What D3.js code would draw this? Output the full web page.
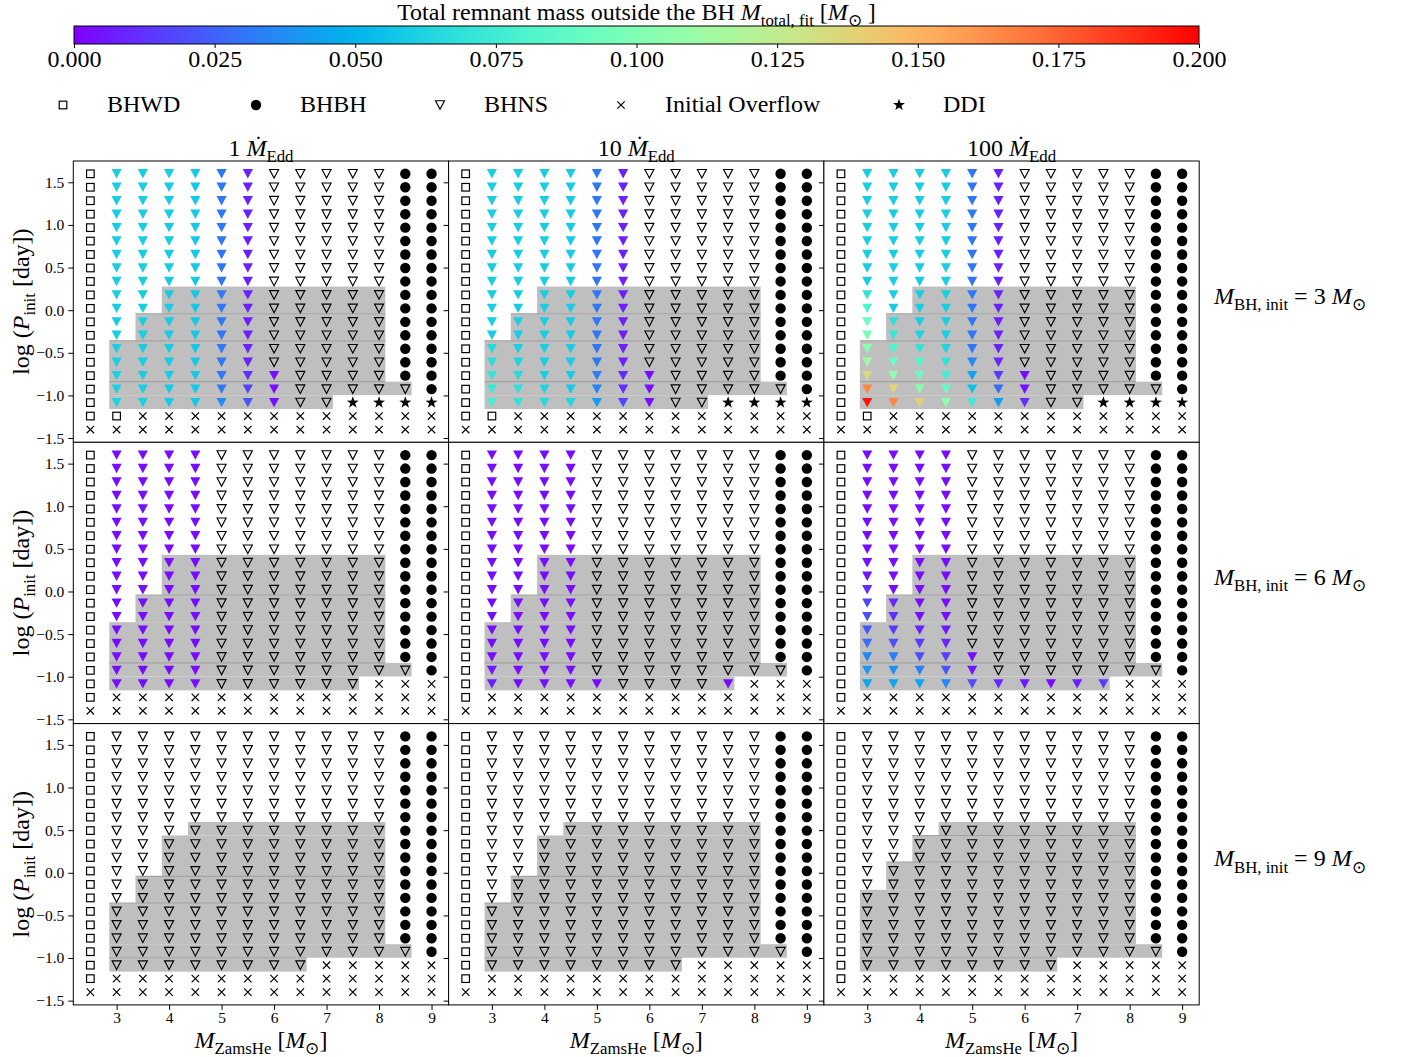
<!DOCTYPE html>
<html><head><meta charset="utf-8">
<script src="https://cdn.jsdelivr.net/npm/d3@7"></script>
<style>
body{margin:0;background:#fff}
text{font-family:"Liberation Serif","Times New Roman",serif;white-space:pre}
</style>
</head><body>
<svg id="chart" width="1411" height="1057"></svg>
<script>
// ---------------- DATA ----------------
const massGrid = [2.5,3,3.5,4,4.5,5,5.5,6,6.5,7,7.5,8,8.5,9];
// log P grid, top row to bottom row
const logPGrid = [1.6,1.442,1.284,1.126,0.968,0.811,0.653,0.495,0.337,0.179,0.021,-0.137,-0.295,-0.453,-0.611,-0.768,-0.926,-1.084,-1.242,-1.4];
const accretionRates = ["1","10","100"];
const bhMasses = [3,6,9];
const xTicks = [3,4,5,6,7,8,9];
const yTicks = [-1.5,-1.0,-0.5,0.0,0.5,1.0,1.5];
const cbarTicks = [0,0.025,0.05,0.075,0.1,0.125,0.15,0.175,0.2];
const legendCodes = ["S","C","T","X","D"];
const legendLabels = ["BHWD","BHBH","BHNS","Initial Overflow","DDI"];

// outcome codes: S=BHWD, C=BHBH, T=BHNS (no value), F=BHNS coloured, X=initial overflow, D=DDI
const outcomeMBH3 = [
"SFFFFFFTTTTTCC","SFFFFFFTTTTTCC","SFFFFFFTTTTTCC","SFFFFFFTTTTTCC","SFFFFFFTTTTTCC",
"SFFFFFFTTTTTCC","SFFFFFFTTTTTCC","SFFFFFFTTTTTCC","SFFFFFFTTTTTCC","SFFFFFFTTTTTCC",
"SFFFFFFTTTTTCC","SFFFFFFTTTTTCC","SFFFFFFTTTTTCC","SFFFFFFTTTTTCC","SFFFFFFTTTTTCC",
"SFFFFFFFTTTTCC","SFFFFFFFTTTTTC","SFFFFFFFTTDDDD","SSXXXXXXXXXXXX","XXXXXXXXXXXXXX"];
const outcomeMBH6_1 = [
"SFFFFTTTTTTTCC","SFFFFTTTTTTTCC","SFFFFTTTTTTTCC","SFFFFTTTTTTTCC","SFFFFTTTTTTTCC",
"SFFFFTTTTTTTCC","SFFFFTTTTTTTCC","SFFFFTTTTTTTCC","SFFFFTTTTTTTCC","SFFFFTTTTTTTCC",
"SFFFFTTTTTTTCC","SFFFFTTTTTTTCC","SFFFFTTTTTTTCC","SFFFFTTTTTTTCC","SFFFFTTTTTTTCC",
"SFFFFTTTTTTTCC","SFFFFTTTTTTTTC","SFFFFTTTTTTXXX","SXXXXXXXXXXXXX","XXXXXXXXXXXXXX"];
const outcomeMBH6_10 = [
"SFFFFTTTTTTTCC","SFFFFTTTTTTTCC","SFFFFTTTTTTTCC","SFFFFTTTTTTTCC","SFFFFTTTTTTTCC",
"SFFFFTTTTTTTCC","SFFFFTTTTTTTCC","SFFFFTTTTTTTCC","SFFFFTTTTTTTCC","SFFFFTTTTTTTCC",
"SFFFFTTTTTTTCC","SFFFFTTTTTTTCC","SFFFFTTTTTTTCC","SFFFFTTTTTTTCC","SFFFFTTTTTTTCC",
"SFFFFTTTTTTTCC","SFFFFTTTTTTTTC","SFFFFFTTTTFXXX","SXXXXXXXXXXXXX","XXXXXXXXXXXXXX"];
const outcomeMBH6_100 = [
"SFFFFTTTTTTTCC","SFFFFTTTTTTTCC","SFFFFTTTTTTTCC","SFFFFTTTTTTTCC","SFFFFTTTTTTTCC",
"SFFFFTTTTTTTCC","SFFFFTTTTTTTCC","SFFFFTTTTTTTCC","SFFFFTTTTTTTCC","SFFFFTTTTTTTCC",
"SFFFFTTTTTTTCC","SFFFFTTTTTTTCC","SFFFFTTTTTTTCC","SFFFFTTTTTTTCC","SFFFFTTTTTTTCC",
"SFFFFFTTTTTTCC","SFFFFFTTTTTTTC","SFFFFFFFFFFXXX","SXXXXXXXXXXXXX","XXXXXXXXXXXXXX"];
const outcomeMBH9 = [
"STTTTTTTTTTTCC","STTTTTTTTTTTCC","STTTTTTTTTTTCC","STTTTTTTTTTTCC","STTTTTTTTTTTCC",
"STTTTTTTTTTTCC","STTTTTTTTTTTCC","STTTTTTTTTTTCC","STTTTTTTTTTTCC","STTTTTTTTTTTCC",
"STTTTTTTTTTTCC","STTTTTTTTTTTCC","STTTTTTTTTTTCC","STTTTTTTTTTTCC","STTTTTTTTTTTCC",
"STTTTTTTTTTTCC","STTTTTTTTTTTTC","STTTTTTTTXXXXX","SXXXXXXXXXXXXX","XXXXXXXXXXXXXX"];

// M_total,fit values of coloured BHNS cells, per column (top to bottom)
const fill_1Edd_3 = {
"3":  [0.060,0.060,0.060,0.060,0.060,0.060,0.060,0.060,0.060,0.060,0.060,0.060,0.060,0.060,0.060,0.061,0.061,0.062],
"3.5":[0.060,0.060,0.060,0.060,0.060,0.060,0.060,0.060,0.060,0.060,0.060,0.060,0.060,0.060,0.060,0.060,0.060,0.061],
"4":  [0.059,0.059,0.059,0.059,0.059,0.059,0.059,0.059,0.059,0.059,0.059,0.059,0.059,0.059,0.059,0.059,0.059,0.059],
"4.5":[0.058,0.058,0.058,0.058,0.058,0.058,0.058,0.058,0.058,0.058,0.058,0.058,0.058,0.058,0.058,0.058,0.058,0.058],
"5":  [0.031,0.031,0.031,0.031,0.031,0.031,0.031,0.031,0.031,0.031,0.031,0.031,0.031,0.031,0.031,0.031,0.031,0.036],
"5.5":[0.008,0.008,0.008,0.008,0.008,0.008,0.008,0.008,0.008,0.008,0.008,0.008,0.008,0.008,0.008,0.012,0.016,0.022],
"6":  [0.003,0.003,0.004]};
const fill_10Edd_3 = {
"3":  [0.060,0.060,0.060,0.060,0.060,0.060,0.060,0.060,0.060,0.060,0.060,0.060,0.060,0.065,0.067,0.070,0.072,0.078],
"3.5":[0.060,0.060,0.060,0.060,0.060,0.060,0.060,0.060,0.060,0.060,0.060,0.060,0.060,0.060,0.062,0.065,0.068,0.070],
"4":  [0.060,0.060,0.060,0.060,0.060,0.060,0.060,0.060,0.060,0.060,0.060,0.060,0.060,0.060,0.060,0.060,0.062,0.065],
"4.5":[0.059,0.059,0.059,0.059,0.059,0.059,0.059,0.059,0.059,0.059,0.059,0.059,0.059,0.059,0.059,0.059,0.059,0.063],
"5":  [0.031,0.031,0.031,0.031,0.031,0.031,0.031,0.031,0.031,0.031,0.031,0.031,0.031,0.031,0.031,0.033,0.035,0.042],
"5.5":[0.008,0.008,0.008,0.008,0.008,0.008,0.008,0.008,0.008,0.008,0.008,0.008,0.008,0.008,0.008,0.010,0.012,0.018],
"6":  [0.003,0.003,0.004]};
const fill_100Edd_3 = {
"3":  [0.060,0.060,0.060,0.060,0.060,0.060,0.060,0.060,0.060,0.070,0.080,0.092,0.098,0.103,0.112,0.135,0.165,0.195],
"3.5":[0.060,0.060,0.060,0.060,0.060,0.060,0.060,0.060,0.060,0.060,0.060,0.068,0.072,0.080,0.092,0.105,0.138,0.165],
"4":  [0.060,0.060,0.060,0.060,0.060,0.060,0.060,0.060,0.060,0.060,0.060,0.060,0.062,0.070,0.082,0.092,0.103,0.138],
"4.5":[0.060,0.060,0.060,0.060,0.060,0.060,0.060,0.060,0.060,0.060,0.060,0.060,0.060,0.063,0.070,0.076,0.090,0.105],
"5":  [0.031,0.031,0.031,0.031,0.031,0.031,0.031,0.031,0.031,0.031,0.031,0.031,0.031,0.031,0.036,0.045,0.055,0.075],
"5.5":[0.008,0.008,0.008,0.008,0.008,0.008,0.008,0.008,0.008,0.008,0.008,0.008,0.008,0.008,0.010,0.014,0.028,0.042],
"6":  [0.003,0.004,0.012]};
const fill_1Edd_6 = {
"3":  [0.003,0.003,0.003,0.003,0.003,0.003,0.003,0.003,0.003,0.003,0.003,0.003,0.003,0.003,0.003,0.003,0.003,0.003],
"3.5":[0.003,0.003,0.003,0.003,0.003,0.003,0.003,0.003,0.003,0.003,0.003,0.003,0.003,0.003,0.003,0.003,0.003,0.003],
"4":  [0.003,0.003,0.003,0.003,0.003,0.003,0.003,0.003,0.003,0.003,0.003,0.003,0.003,0.003,0.003,0.003,0.003,0.003],
"4.5":[0.003,0.003,0.003,0.003,0.003,0.003,0.003,0.003,0.003,0.003,0.003,0.003,0.003,0.003,0.003,0.003,0.003,0.003]};
const fill_10Edd_6 = {
"3":  [0.003,0.003,0.003,0.003,0.003,0.003,0.003,0.003,0.003,0.003,0.003,0.003,0.003,0.003,0.003,0.003,0.006,0.008],
"3.5":[0.003,0.003,0.003,0.003,0.003,0.003,0.003,0.003,0.003,0.003,0.003,0.003,0.003,0.003,0.003,0.003,0.003,0.004],
"4":  [0.003,0.003,0.003,0.003,0.003,0.003,0.003,0.003,0.003,0.003,0.003,0.003,0.003,0.003,0.003,0.003,0.003,0.003],
"4.5":[0.003,0.003,0.003,0.003,0.003,0.003,0.003,0.003,0.003,0.003,0.003,0.003,0.003,0.003,0.003,0.003,0.003,0.003],
"5":  [0.002],
"7.5":[0.003]};
const fill_100Edd_6 = {
"3":  [0.003,0.003,0.003,0.003,0.003,0.003,0.003,0.003,0.003,0.005,0.012,0.018,0.020,0.022,0.028,0.035,0.040,0.045],
"3.5":[0.003,0.003,0.003,0.003,0.003,0.003,0.003,0.003,0.003,0.003,0.003,0.010,0.012,0.015,0.020,0.033,0.038,0.045],
"4":  [0.003,0.003,0.003,0.003,0.003,0.003,0.003,0.003,0.003,0.003,0.003,0.003,0.003,0.008,0.015,0.020,0.033,0.045],
"4.5":[0.003,0.003,0.003,0.003,0.003,0.003,0.003,0.003,0.003,0.003,0.003,0.003,0.003,0.006,0.010,0.016,0.022,0.036],
"5":  [0.003,0.005,0.020],
"5.5":[0.010],
"6":  [0.006],
"6.5":[0.003],
"7":  [0.008],
"7.5":[0.015]};

// shaded regions [M_low, M_high, logP_low, logP_high] and seams [M_low, M_high, logP]
const bandsMBH3 = [[3.86,8.12,-0.042,0.277],[3.36,8.12,-0.360,-0.042],[2.86,8.12,-0.838,-0.360],[2.86,8.62,-0.997,-0.838],[2.86,7.12,-1.160,-0.997]];
const seamsMBH3 = [[3.36,8.12,-0.042],[2.86,8.12,-0.360],[2.86,8.12,-0.838]];
const bandsMBH6 = [[3.86,8.12,-0.042,0.430],[3.36,8.12,-0.360,-0.042],[2.86,8.12,-0.838,-0.360],[2.86,8.62,-0.997,-0.838],[2.86,7.62,-1.160,-0.997]];
const seamsMBH6 = [[3.36,8.12,-0.042],[2.86,8.12,-0.838]];
const bandsMBH9 = [[4.36,8.12,0.438,0.596],[3.86,8.12,-0.042,0.438],[3.36,8.12,-0.355,-0.042],[2.86,8.12,-0.838,-0.355],[2.86,8.62,-0.997,-0.838],[2.86,6.62,-1.160,-0.997]];
const seamsMBH9 = [[3.36,8.12,-0.042],[2.86,8.12,-0.355],[2.86,6.62,-0.997]];
const bandsMBH9_100 = [[4.36,8.12,0.438,0.596],[3.86,8.12,0.126,0.438],[3.36,8.12,-0.200,0.126],[2.86,8.12,-0.838,-0.200],[2.86,8.62,-0.997,-0.838],[2.86,6.62,-1.160,-0.997]];
const seamsMBH9_100 = [[3.86,8.12,0.438],[3.36,8.12,0.126],[2.86,6.62,-0.997]];

const panelOutcomes = [[outcomeMBH3,outcomeMBH3,outcomeMBH3],[outcomeMBH6_1,outcomeMBH6_10,outcomeMBH6_100],[outcomeMBH9,outcomeMBH9,outcomeMBH9]];
const panelFills = [[fill_1Edd_3,fill_10Edd_3,fill_100Edd_3],[fill_1Edd_6,fill_10Edd_6,fill_100Edd_6],[{},{},{}]];
const panelBands = [[bandsMBH3,bandsMBH3,bandsMBH3],[bandsMBH6,bandsMBH6,bandsMBH6],[bandsMBH9,bandsMBH9,bandsMBH9_100]];
const panelSeams = [[seamsMBH3,seamsMBH3,seamsMBH3],[seamsMBH6,seamsMBH6,seamsMBH6],[seamsMBH9,seamsMBH9,seamsMBH9_100]];

// ---------------- DRAW ----------------
const svg = d3.select("#chart");
const FS = 24, TFS = 15.5;
const lefts = [73.3,448.6,823.9], tops = [161,442.3,723.6];
const PW = 375.3, PH = 281.3;

function rainbow(t){
  t = Math.max(0,Math.min(1,t));
  const r = Math.min(1,Math.abs(2*t-0.5)), g = Math.sin(Math.PI*t), b = Math.cos(Math.PI*t/2);
  return d3.rgb(r*255,g*255,Math.max(0,b)*255).formatHex();
}
const cScale = d3.scaleSequential(rainbow).domain([0,0.2]);

function rich(sel, parts, fs){
  let sub = false;
  parts.forEach(p=>{
    const ts = sel.append("tspan").text(p.t);
    if(p.i) ts.attr("font-style","italic");
    const want = !!p.s;
    if(want!==sub){ ts.attr("dy", want? 0.27*fs : -0.27*fs); sub = want; }
    if(want) ts.attr("font-size", 0.7*fs);
  });
}
const tri = (cx,cy,hw,hh)=>`M${cx-hw},${cy-hh}L${cx+hw},${cy-hh}L${cx},${cy+hh}Z`;
function star(cx,cy,R,r){
  let d="";
  for(let k=0;k<10;k++){
    const a = -Math.PI/2 + k*Math.PI/5, rad = k%2? r:R;
    d += (k?"L":"M")+(cx+rad*Math.cos(a)).toFixed(2)+","+(cy+rad*Math.sin(a)).toFixed(2);
  }
  return d+"Z";
}
function marker(g, code, cx, cy, color){
  switch(code){
    case "S": g.append("rect").attr("x",cx-3.8).attr("y",cy-3.8).attr("width",7.6).attr("height",7.6)
      .attr("fill","none").attr("stroke","#000").attr("stroke-width",1.2); break;
    case "C": g.append("circle").attr("cx",cx).attr("cy",cy).attr("r",5.2).attr("fill","#000"); break;
    case "T": g.append("path").attr("d",tri(cx,cy,4.5,4.3)).attr("fill","none").attr("stroke","#000").attr("stroke-width",1.15); break;
    case "F": g.append("path").attr("d",tri(cx,cy,5.1,4.7)).attr("fill",color); break;
    case "X": g.append("path").attr("d",`M${cx-3.7},${cy-3.7}L${cx+3.7},${cy+3.7}M${cx-3.7},${cy+3.7}L${cx+3.7},${cy-3.7}`)
      .attr("stroke","#000").attr("stroke-width",1.2).attr("fill","none"); break;
    case "D": g.append("path").attr("d",star(cx,cy,6.3,2.5)).attr("fill","#000"); break;
  }
}

// colorbar
const cbX = d3.scaleLinear().domain([0,0.2]).range([74,1199]);
const grad = svg.append("defs").append("linearGradient").attr("id","cb");
d3.range(0,1.0001,0.02).forEach(t=>grad.append("stop").attr("offset",t).attr("stop-color",rainbow(t)));
svg.append("rect").attr("x",74).attr("y",26).attr("width",1125).attr("height",18).attr("fill","url(#cb)").attr("stroke","#000").attr("stroke-width",1);
const cbAxis = svg.append("g").attr("transform","translate(0,44)")
  .call(d3.axisBottom(cbX).tickValues(cbarTicks).tickFormat(d3.format(".3f")).tickSize(4).tickPadding(3));
cbAxis.select(".domain").remove();
cbAxis.selectAll("text").attr("font-family","Liberation Serif").attr("font-size",FS).attr("fill","#000").attr("y",23).attr("dy",0);
const cbTitle = svg.append("text").attr("x",636.5).attr("y",20).attr("text-anchor","middle").attr("font-size",FS);
rich(cbTitle,[{t:"Total remnant mass outside the BH "},{t:"M",i:1},{t:"total, fit",s:1},{t:" ["},{t:"M",i:1},{t:"⊙",s:1},{t:" ]"}],FS);

// legend
const legX = [63,256,440,621,899];
legendCodes.forEach((c,k)=>{
  marker(svg, c, legX[k], 105, "#000");
  svg.append("text").attr("x",legX[k]+44).attr("y",112).attr("font-size",FS).text(legendLabels[k]);
});

// panels
const axesLayer = [];
for(let r=0;r<3;r++){
  for(let c=0;c<3;c++){
    const x = d3.scaleLinear().domain([2.175,9.325]).range([lefts[c],lefts[c]+PW]);
    const y = d3.scaleLinear().domain([-1.55,1.75]).range([tops[r]+PH,tops[r]]);
    const g = svg.append("g");
    g.append("rect").attr("x",lefts[c]).attr("y",tops[r]).attr("width",PW).attr("height",PH).attr("fill","#fff");
    g.selectAll(".band").data(panelBands[r][c]).join("rect")
      .attr("x",d=>x(d[0])).attr("width",d=>x(d[1])-x(d[0]))
      .attr("y",d=>y(d[3])).attr("height",d=>y(d[2])-y(d[3])).attr("fill","#bfbfbf");
    g.selectAll(".seam").data(panelSeams[r][c]).join("line")
      .attr("x1",d=>x(d[0])).attr("x2",d=>x(d[1])).attr("y1",d=>y(d[2])).attr("y2",d=>y(d[2]))
      .attr("stroke","#a3a3a3").attr("stroke-width",1.1);
    const grid = panelOutcomes[r][c], fills = panelFills[r][c];
    massGrid.forEach((m,j)=>{
      let k = 0;
      const vals = fills[String(m)] || [];
      grid.forEach((row,i)=>{
        const code = row[j];
        let col = null;
        if(code==="F"){ col = cScale(vals[k]); k++; }
        marker(g, code, x(m), y(logPGrid[i]), col);
      });
    });
    g.append("rect").attr("x",lefts[c]).attr("y",tops[r]).attr("width",PW).attr("height",PH)
      .attr("fill","none").attr("stroke","#000").attr("stroke-width",1);
    axesLayer.push({r,c,x,y});
  }
}
axesLayer.forEach(({r,c,x,y})=>{
  const ya = svg.append("g").attr("transform",`translate(${lefts[c]},0)`)
    .call(d3.axisLeft(y).tickValues(yTicks).tickSize(5).tickPadding(4)
      .tickFormat(c===0? d3.format(".1f") : ()=>""));
  ya.select(".domain").remove();
  ya.selectAll("text").attr("font-family","Liberation Serif").attr("font-size",TFS).attr("fill","#000");
  if(r===2){
    const xa = svg.append("g").attr("transform",`translate(0,${tops[r]+PH})`)
      .call(d3.axisBottom(x).tickValues(xTicks).tickSize(5).tickPadding(2).tickFormat(d3.format("d")));
    xa.select(".domain").remove();
    xa.selectAll("text").attr("font-family","Liberation Serif").attr("font-size",TFS).attr("fill","#000");
  }
});

// column titles
accretionRates.forEach((a,c)=>{
  const t = svg.append("text").attr("x",lefts[c]+PW/2).attr("y",156).attr("text-anchor","middle").attr("font-size",FS);
  rich(t,[{t:a+" "},{t:"\u1E40",i:1},{t:"Edd",s:1}],FS);
  const xl = svg.append("text").attr("x",lefts[c]+PW/2).attr("y",1048).attr("text-anchor","middle").attr("font-size",FS);
  rich(xl,[{t:"M",i:1},{t:"ZamsHe",s:1},{t:" ["},{t:"M",i:1},{t:"⊙",s:1},{t:"]"}],FS);
});
// row labels
bhMasses.forEach((mb,r)=>{
  const cy = tops[r]+PH/2;
  const t = svg.append("text").attr("x",1214).attr("y",cy+2).attr("font-size",FS);
  rich(t,[{t:"M",i:1},{t:"BH, init",s:1},{t:" = "+mb+" "},{t:"M",i:1},{t:"⊙",s:1}],FS);
  const yl = svg.append("text").attr("transform",`translate(29,${cy}) rotate(-90)`).attr("text-anchor","middle").attr("font-size",FS);
  rich(yl,[{t:"log ("},{t:"P",i:1},{t:"init",s:1},{t:" [day])"}],FS);
});
</script>
</body></html>
